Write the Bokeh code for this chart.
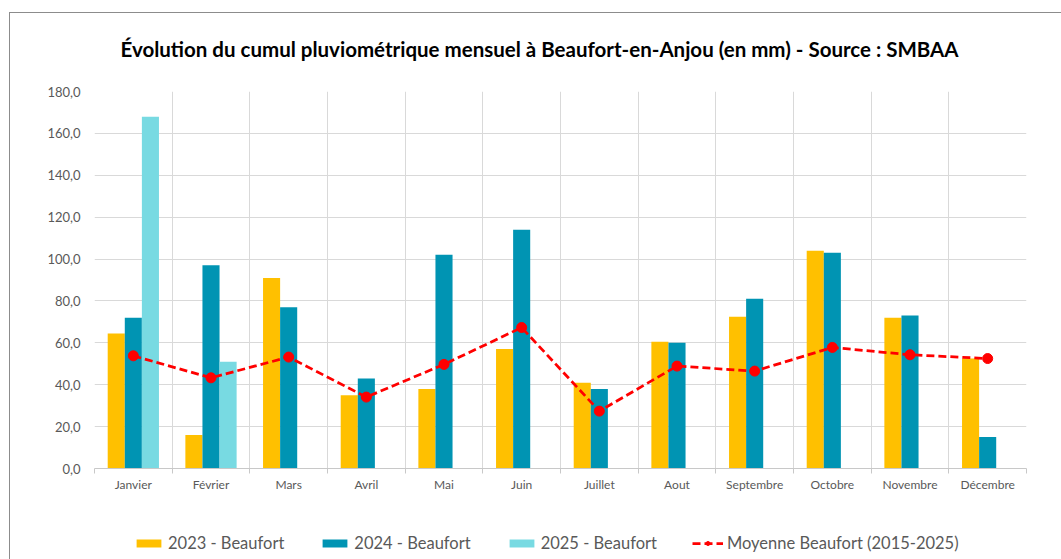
import numpy as np
from bokeh.plotting import figure
from bokeh.layouts import column
from bokeh.models import (ColumnDataSource, Range1d, FixedTicker, Legend, LegendItem, Title)
from bokeh.transform import dodge
from bokeh.embed import file_html
from bokeh.resources import INLINE

# ---- data ----
months = ["Janvier", "Février", "Mars", "Avril", "Mai", "Juin", "Juillet",
          "Aout", "Septembre", "Octobre", "Novembre", "Décembre"]
v2023 = [64.5, 16.0, 91.0, 35.0, 38.0, 57.0, 41.0, 60.5, 72.5, 104.0, 72.0, 52.5]
v2024 = [72.0, 97.0, 77.0, 43.0, 102.0, 114.0, 38.0, 60.0, 81.0, 103.0, 73.0, 15.0]
v2025 = [168.0, 51.0]
moyenne = [53.8, 43.3, 53.2, 34.1, 49.7, 67.3, 27.4, 48.9, 46.5, 57.8, 54.3, 52.5]
y_ticks = [0, 20, 40, 60, 80, 100, 120, 140, 160, 180]
y_tick_labels = ["0,0", "20,0", "40,0", "60,0", "80,0", "100,0", "120,0", "140,0", "160,0", "180,0"]
series_names = ["2023 - Beaufort", "2024 - Beaufort", "2025 - Beaufort",
                "Moyenne Beaufort (2015-2025)"]
title_text = "Évolution du cumul pluviométrique mensuel à Beaufort-en-Anjou (en mm) - Source : SMBAA"

FONT = "Lato"
GRAY = "#595959"
FRAME = "#8C8C8C"
C23, C24, C25, CMOY = "#FFC000", "#0094B3", "#78DAE2", "#FF0000"
LINE_KW = dict(line_color=CMOY, line_width=2.75, line_dash="8 4")
DOT_KW = dict(marker="circle", size=10, fill_color=CMOY, line_color=CMOY)

n = len(months)
pos = list(range(n))
src = ColumnDataSource(dict(x=pos, a=v2023, b=v2024, moy=moyenne))
src25 = ColumnDataSource(dict(x=pos[:len(v2025)], c=v2025))

# thin chart-area border (left and top edges) drawn as page background behind the canvas
frame_bg_top = (f"linear-gradient({FRAME},{FRAME}) 9px 12px / 1px 100% no-repeat, "
                f"linear-gradient({FRAME},{FRAME}) 9px 12px / 100% 1px no-repeat")
frame_bg_side = f"linear-gradient({FRAME},{FRAME}) 9px 0px / 1px 100% no-repeat"

p = figure(width=1061, height=524, output_backend="svg", toolbar_location=None,
           x_range=Range1d(-0.5, n - 0.5), y_range=Range1d(y_ticks[0], y_ticks[-1]),
           min_border_left=94, min_border_right=35, min_border_top=91, min_border_bottom=56,
           title=title_text)
p.outline_line_color = None
p.background_fill_color = "white"
p.border_fill_alpha = 0
p.styles = {"background": frame_bg_top}

bw = 0.22
r23 = p.vbar(x=dodge("x", -bw, range=p.x_range), top="a", width=bw, source=src,
             fill_color=C23, line_color=None)
r24 = p.vbar(x=dodge("x", 0, range=p.x_range), top="b", width=bw, source=src,
             fill_color=C24, line_color=None)
r25 = p.vbar(x=dodge("x", bw, range=p.x_range), top="c", width=bw, source=src25,
             fill_color=C25, line_color=None)
rl = p.line("x", "moy", source=src, **LINE_KW)
rs = p.scatter("x", "moy", source=src, **DOT_KW)

# axes
xa = p.xaxis[0]
xa.ticker = FixedTicker(ticks=pos, minor_ticks=[i - 0.5 for i in range(n + 1)])
xa.major_label_overrides = {i: m for i, m in enumerate(months)}
xa.major_tick_line_color = None
xa.major_tick_out = 0
xa.major_tick_in = 0
xa.minor_tick_line_color = "#C8C8C8"
xa.minor_tick_out = 5
xa.minor_tick_in = 0
xa.axis_line_color = "#C8C8C8"
xa.major_label_standoff = 3
xa.major_label_text_font = FONT
xa.major_label_text_font_size = "12px"
xa.major_label_text_color = GRAY

ya = p.yaxis[0]
ya.ticker = FixedTicker(ticks=y_ticks)
ya.major_label_overrides = {t: l for t, l in zip(y_ticks, y_tick_labels)}
ya.axis_line_color = None
ya.major_tick_line_color = None
ya.minor_tick_line_color = None
ya.major_tick_out = 0
ya.major_label_standoff = 14
ya.major_label_text_font = FONT
ya.major_label_text_font_size = "13px"
ya.major_label_text_color = GRAY

p.xgrid.ticker = FixedTicker(ticks=[i - 0.5 for i in range(n + 1)])
p.xgrid.grid_line_color = "#D9D9D9"
p.ygrid.ticker = FixedTicker(ticks=y_ticks)
p.ygrid.grid_line_color = "#D9D9D9"

# main title (figure title) with a blank spacer title between it and the frame
p.title.align = "left"
p.title.offset = 26
p.title.text_font = FONT
p.title.text_font_style = "bold"
p.title.text_font_size = "20.5px"
p.title.text_color = "black"
p.add_layout(Title(text=" ", text_font_size="12px"), "above")

# legend strip: a second figure showing the same series (out of its view) plus the legend
q = figure(width=1061, height=35, output_backend="svg", toolbar_location=None,
           x_range=Range1d(-0.5, n - 0.5), y_range=Range1d(-2, -1),
           x_axis_location=None, y_axis_location=None, min_border=0)
q.outline_line_color = None
q.grid.visible = False
q.border_fill_alpha = 0
q.background_fill_alpha = 0
q.styles = {"background": frame_bg_side}
g23 = q.vbar(x="x", top="a", width=0, source=src, fill_color=C23, line_color=None)
g24 = q.vbar(x="x", top="b", width=0, source=src, fill_color=C24, line_color=None)
g25 = q.vbar(x="x", top="c", width=0, source=src25, fill_color=C25, line_color=None)
gl = q.line("x", "moy", source=src, **LINE_KW)
gs = q.scatter("x", "moy", source=src, **DOT_KW)
legend = Legend(items=[
    LegendItem(label=series_names[0], renderers=[g23]),
    LegendItem(label=series_names[1], renderers=[g24]),
    LegendItem(label=series_names[2], renderers=[g25]),
    LegendItem(label=series_names[3], renderers=[gl, gs]),
], orientation="horizontal", location=(39, 6), glyph_width=31, glyph_height=10,
    label_standoff=4, spacing=35, padding=0, margin=0, border_line_color=None,
    background_fill_alpha=0, label_text_font=FONT, label_text_font_size="16.5px",
    label_text_color=GRAY)
q.add_layout(legend, "center")

layout = column(p, q, spacing=0)
open("out.html", "w").write(file_html(layout, INLINE))
